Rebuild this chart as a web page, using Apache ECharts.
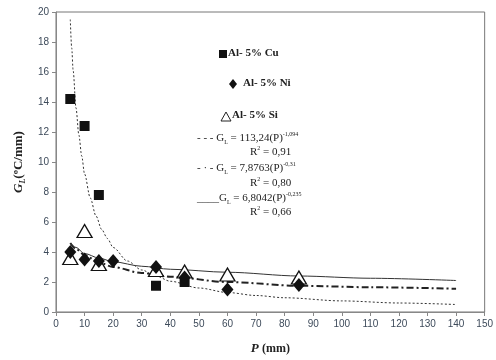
<!DOCTYPE html>
<html><head><meta charset="utf-8">
<script src="https://cdn.jsdelivr.net/npm/echarts@6/dist/echarts.min.js"></script>
<style>html,body{margin:0;padding:0;background:#fff}#c{width:496px;height:360px}</style>
</head><body><div id="c"></div>
<script>
// Measured points
const cuP = [5, 10, 15, 35, 45];
const cuG = [14.2, 12.4, 7.8, 1.75, 2.0];
const niP = [5, 10, 15, 20, 35, 45, 60, 85];
const niG = [4.0, 3.5, 3.4, 3.4, 3.0, 2.3, 1.5, 1.8];
const siP = [5, 10, 15, 35, 45, 60, 85];
const siG = [3.6, 5.4, 3.2, 2.8, 2.7, 2.5, 2.3];
// Trend curves
const cuFitP = [5, 5.5, 6, 7, 8, 9, 10, 12, 14, 16, 18, 20, 25, 30, 35, 40, 50, 60, 70, 80, 100, 120, 140];
const cuFitG = [19.5, 17.6, 16.1, 13.6, 11.8, 10.4, 9.2, 7.6, 6.4, 5.5, 4.9, 4.3, 3.4, 2.8, 2.4, 2.05, 1.6, 1.3, 1.1, 0.95, 0.74, 0.6, 0.5];
const niFitP = [5, 7, 10, 15, 20, 30, 40, 60, 85, 110, 140];
const niFitG = [4.6, 4.2, 3.8, 3.3, 3.0, 2.6, 2.35, 2.0, 1.75, 1.65, 1.55];
const siFitP = [5, 7, 10, 15, 20, 30, 40, 60, 85, 110, 140];
const siFitG = [4.6, 4.3, 3.9, 3.6, 3.35, 3.05, 2.85, 2.65, 2.4, 2.25, 2.1];
const xTicks = [0,10,20,30,40,50,60,70,80,90,100,110,120,130,140,150];

const zip = (a, b) => a.map((v, i) => [v, b[i]]);
const serif = 'Liberation Serif';
const eq = (x, y, lead, coef, exp) => ({
  type: 'text', left: x, top: y,
  style: {
    text: '{l|' + lead + '}{g|G}{s|L}{g| = ' + coef + '(P)}{p|' + exp + '}',
    rich: {
      l: {fontFamily: serif, fontSize: 11, fill: '#222', lineHeight: 14},
      g: {fontFamily: serif, fontSize: 11, fill: '#222', lineHeight: 14},
      s: {fontFamily: serif, fontSize: 6, fill: '#222', lineHeight: 14, verticalAlign: 'bottom'},
      p: {fontFamily: serif, fontSize: 6, fill: '#222', lineHeight: 14, verticalAlign: 'top'}
    }
  }
});
const r2 = (x, y, v) => ({
  type: 'text', left: x, top: y,
  style: {
    text: '{g|R}{p|2}{g| = ' + v + '}',
    rich: {
      g: {fontFamily: serif, fontSize: 11, fill: '#222', lineHeight: 14},
      p: {fontFamily: serif, fontSize: 6, fill: '#222', lineHeight: 14, verticalAlign: 'top'}
    }
  }
});

const chart = echarts.init(document.getElementById('c'));
chart.setOption({
  animation: false,
  grid: {left: 56, right: 8, top: 12, bottom: 47, show: true, borderColor: '#777', borderWidth: 1},
  xAxis: {
    type: 'value', min: 0, max: 150, interval: 10,
    axisLine: {lineStyle: {color: '#888'}},
    axisTick: {show: true, length: 4, lineStyle: {color: '#888'}},
    splitLine: {show: false},
    axisLabel: {color: '#3d4a5a', fontFamily: 'Liberation Sans', fontSize: 10, margin: 7,
      formatter: v => xTicks.includes(v) ? String(v) : ''},
    name: '{i|P} {b|(mm)}', nameLocation: 'middle', nameGap: 30,
    nameTextStyle: {rich: {
      i: {fontFamily: serif, fontStyle: 'italic', fontWeight: 'bold', fontSize: 13, color: '#222'},
      b: {fontFamily: serif, fontWeight: 'bold', fontSize: 12, color: '#222'}}}
  },
  yAxis: {
    type: 'value', min: 0, max: 20, interval: 2,
    axisLine: {show: true, lineStyle: {color: '#888'}},
    axisTick: {show: true, length: 4, lineStyle: {color: '#888'}},
    splitLine: {show: false},
    axisLabel: {color: '#3d4a5a', fontFamily: 'Liberation Sans', fontSize: 10, margin: 7},
    name: '{i|G}{s|L}{b|(ºC/mm)}', nameLocation: 'middle', nameGap: 27, nameRotate: 90,
    nameTextStyle: {rich: {
      i: {fontFamily: serif, fontStyle: 'italic', fontWeight: 'bold', fontSize: 13, color: '#222', lineHeight: 16},
      s: {fontFamily: serif, fontStyle: 'italic', fontWeight: 'bold', fontSize: 8, color: '#222', lineHeight: 16, verticalAlign: 'bottom'},
      b: {fontFamily: serif, fontWeight: 'bold', fontSize: 13, color: '#222', lineHeight: 16}}}
  },
  series: [
    {type: 'line', data: zip(cuFitP, cuFitG), showSymbol: false, smooth: 0.3, smoothMonotone: 'x',
      lineStyle: {color: '#333', width: 1, type: [2, 2]}, z: 1},
    {type: 'line', data: zip(niFitP, niFitG), showSymbol: false, smooth: 0.3, smoothMonotone: 'x',
      lineStyle: {color: '#222', width: 2, type: [7, 3, 2, 3]}, z: 1},
    {type: 'line', data: zip(siFitP, siFitG), showSymbol: false, smooth: 0.3, smoothMonotone: 'x',
      lineStyle: {color: '#333', width: 1}, z: 1},
    {type: 'scatter', data: zip(cuP, cuG), symbol: 'rect', symbolSize: 10,
      itemStyle: {color: '#111', opacity: 1}, z: 3},
    {type: 'scatter', data: zip(siP, siG), symbol: 'triangle', symbolSize: [15, 13],
      itemStyle: {color: '#fff', borderColor: '#111', borderWidth: 1.3, opacity: 1}, z: 3},
    {type: 'scatter', data: zip(niP, niG), symbol: 'diamond', symbolSize: [12, 14],
      itemStyle: {color: '#111', opacity: 1}, z: 4}
  ],
  graphic: [
    {type: 'rect', left: 219, top: 50, shape: {width: 8, height: 8}, style: {fill: '#111'}},
    {type: 'text', left: 228, top: 48, style: {text: 'Al- 5% Cu', font: 'bold 11px "Liberation Serif"', fill: '#222'}},
    {type: 'polygon', shape: {points: [[233, 79], [237, 84], [233, 89], [229, 84]]}, style: {fill: '#111'}},
    {type: 'text', left: 243, top: 78, style: {text: 'Al- 5% Ni', font: 'bold 11px "Liberation Serif"', fill: '#222'}},
    {type: 'polygon', shape: {points: [[226, 112], [231, 121], [221, 121]]}, style: {fill: '#fff', stroke: '#222', lineWidth: 1}},
    {type: 'text', left: 232, top: 110, style: {text: 'Al- 5% Si', font: 'bold 11px "Liberation Serif"', fill: '#222'}},
    eq(197, 131, '- - - ', '113,24', '-1,094'),
    r2(250, 145, '0,91'),
    eq(197, 161, '- · - ', '7,8763', '-0,31'),
    r2(250, 176, '0,80'),
    eq(197, 191, '____', '6,8042', '-0,235'),
    r2(250, 205, '0,66')
  ]
});
</script></body></html>
